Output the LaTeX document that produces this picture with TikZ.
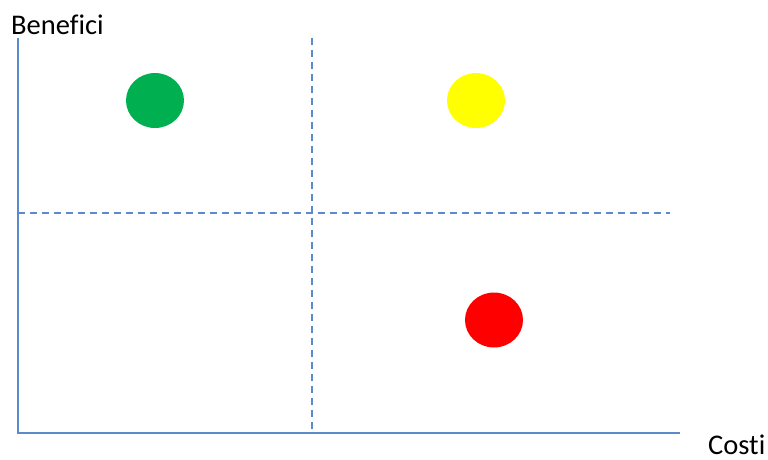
\documentclass[tikz,border=0pt]{standalone}
\usepackage{fontspec}
\setmainfont{Carlito}[Ligatures=NoCommon]
\usepackage{xcolor}
\usetikzlibrary{positioning, shapes.geometric}
\definecolor{axisblue}{HTML}{5B8BCB}
\definecolor{dotgreen}{HTML}{00B050}
\definecolor{dotyellow}{HTML}{FFFF00}
\definecolor{dotred}{HTML}{FF0000}

\begin{document}
\begin{tikzpicture}[x=1pt, y=-1pt,
    axisline/.style={draw=axisblue, line width=2pt},
    gridline/.style={draw=axisblue, line width=1.3pt, dash pattern=on 7pt off 5pt},
    dot/.style={ellipse, minimum width=58pt, minimum height=55pt, inner sep=0pt},
    lbl/.style={inner sep=0pt, text depth=0pt, anchor=base west, font=\fontsize{28.5}{32}\selectfont}]

    \useasboundingbox (0,0) rectangle (768,459);

    % Axes
    \coordinate (origin) at (18,433);
    \coordinate (ytop) at (18,38);
    \coordinate (xend) at (680,433);
    \draw[axisline] (ytop) -- (origin) -- (xend);

    % Axis labels
    \node[lbl] (benefici) at (11,34) {Benefici};
    \node[lbl] (costi) at (708,454) {Costi};

    % Quadrant lines
    \coordinate (vtop) at (312,38);
    \coordinate (vbot) at (312,433);
    \coordinate (hleft) at (18,213);
    \coordinate (hright) at (670,213);
    \draw[gridline] (vtop) -- (vbot);
    \draw[gridline] (hleft) -- (hright);

    % Dots
    \node[dot, fill=dotgreen] (green) at (155,100.5) {};
    \node[dot, fill=dotyellow] (yellow) at (476,100.5) {};
    \node[dot, fill=dotred] (red) at (494,320) {};

\end{tikzpicture}
\end{document}
